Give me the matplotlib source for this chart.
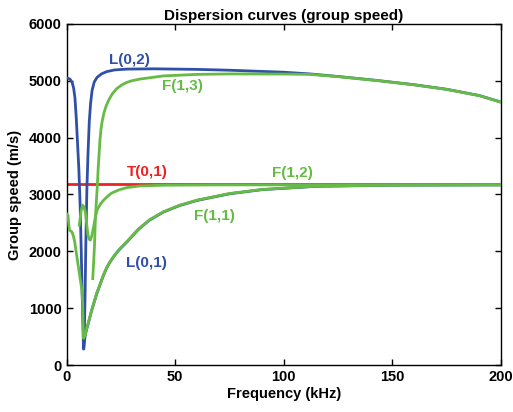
import matplotlib
matplotlib.use("Agg")
import matplotlib.pyplot as plt

plt.rcParams['font.family'] = ['Liberation Sans', 'DejaVu Sans']
plt.rcParams['font.weight'] = 'bold'

# ---- data (frequency kHz, group speed m/s) ----
L01_f = [0, 1.5, 2.5, 3.2, 3.8, 4.4, 5.0, 5.6, 6.2, 6.7, 7.1, 7.5, 7.75, 8.1, 8.5, 9.2, 10, 11.5, 13.8,
         16.9, 18.5, 20, 22, 24, 27.6, 33, 38, 44.5, 52, 60, 75, 90, 115, 150, 200]
L01_v = [5050, 5030, 4970, 4870, 4700, 4350, 3900, 3450, 2800, 2000, 1300, 650, 280, 380, 520, 630, 740, 960, 1250,
         1575, 1715, 1815, 1925, 2020, 2160, 2385, 2545, 2690, 2805, 2895, 3012, 3085, 3143, 3163, 3168]

L02_f = [7.9, 8.2, 8.5, 8.8, 9.3, 9.8, 10.4, 11.0, 11.7, 12.7, 14, 16, 18.4, 22, 27.6, 40, 60, 75, 100,
         112, 125, 143, 160, 175, 190, 200]
L02_v = [300, 700, 1300, 2100, 3100, 3700, 4280, 4600, 4830, 4980, 5060, 5120, 5160, 5190, 5205, 5210, 5200,
         5185, 5150, 5120, 5075, 5005, 4930, 4850, 4740, 4625]

T01_f = [0, 200]
T01_v = [3190, 3190]

F11_f = [0, 0.6, 1.0, 1.3, 2.4, 3.0, 3.7, 4.7, 5.5, 6.3, 7.0, 7.35, 7.55, 7.75, 8.4, 9.2, 10, 11.5, 13.8,
         16.9, 18.5, 20, 22, 24, 27.6, 33, 38, 44.5, 52, 60, 75, 90, 115, 150, 200]
F11_v = [2660, 2636, 2450, 2370, 2343, 2280, 2167, 1903, 1700, 1494, 1320, 1100, 750, 470, 520, 640, 750, 967, 1260,
         1580, 1720, 1820, 1930, 2025, 2167, 2390, 2550, 2695, 2810, 2900, 3017, 3088, 3146, 3165, 3170]

F12_f = [5.8, 6.6, 7.3, 7.8, 8.6, 9.3, 9.8, 10.4, 10.9, 11.6, 12.4, 13.2, 14, 15.5, 17, 18.8, 20.5, 24,
         27.6, 33.8, 45, 70, 200]
F12_v = [2460, 2700, 2812, 2790, 2695, 2450, 2285, 2210, 2197, 2280, 2431, 2600, 2724, 2830, 2900, 2965, 3020,
         3080, 3120, 3150, 3163, 3168, 3170]

F13_f = [12.0, 12.4, 12.8, 13.2, 13.6, 14.0, 14.5, 15.3, 15.8, 16.3, 17.2, 18.2, 19.5, 21, 23, 25.5, 27.6, 30,
         33.8, 44.5, 60, 75, 100, 112, 125, 143, 160, 175, 190, 200]
F13_v = [1520, 1800, 2100, 2550, 2850, 3080, 3450, 3950, 4150, 4280, 4440, 4560, 4670, 4770, 4860, 4930, 4970, 5000,
         5030, 5085, 5112, 5120, 5118, 5112, 5072, 5003, 4928, 4848, 4738, 4623]

labels = ["L(0,2)", "F(1,3)", "T(0,1)", "F(1,2)", "F(1,1)", "L(0,1)"]
label_f = [28.7, 53.1, 37.0, 103.8, 67.9, 36.5]
label_v = [5360, 4903, 3392, 3374, 2619, 1793]

xticks = [0, 50, 100, 150, 200]
yticks = [0, 1000, 2000, 3000, 4000, 5000, 6000]

BLUE = '#3050a8'
GREEN = '#66bb44'
RED = '#ee2222'
label_colors = [BLUE, GREEN, RED, GREEN, GREEN, BLUE]

fig = plt.figure(figsize=(5.13, 4.12), dpi=100)
ax = fig.add_axes([0.130, 0.114, 0.8466, 0.828])

lw = 2.0
ax.plot(T01_f, T01_v, color=RED, lw=lw, zorder=2)
ax.plot(L01_f, L01_v, color=BLUE, lw=lw, zorder=3)
ax.plot(L02_f, L02_v, color=BLUE, lw=lw, zorder=3)
ax.plot(F11_f, F11_v, color=GREEN, lw=lw, zorder=4)
ax.plot(F12_f, F12_v, color=GREEN, lw=lw, zorder=4)
ax.plot(F13_f, F13_v, color=GREEN, lw=lw, zorder=4)

for t, f, v, c in zip(labels, label_f, label_v, label_colors):
    ax.text(f, v, t, color=c, fontsize=11, fontweight='bold', ha='center', va='center')

ax.set_xlim(0, 200)
ax.set_ylim(0, 6000)
ax.set_xticks(xticks)
ax.set_yticks(yticks)
ax.tick_params(direction='in', top=True, right=True, length=4, width=1, labelsize=10.5)
for lab in ax.get_xticklabels() + ax.get_yticklabels():
    lab.set_fontweight('bold')
for s in ax.spines.values():
    s.set_linewidth(1.0)

ax.set_xlabel('Frequency (kHz)', fontsize=10.5, fontweight='bold', labelpad=2)
ax.set_ylabel('Group speed (m/s)', fontsize=10.5, fontweight='bold', labelpad=5)
ax.set_title('Dispersion curves (group speed)', fontsize=11, fontweight='bold', pad=3)

fig.savefig('out.png', dpi=100)
